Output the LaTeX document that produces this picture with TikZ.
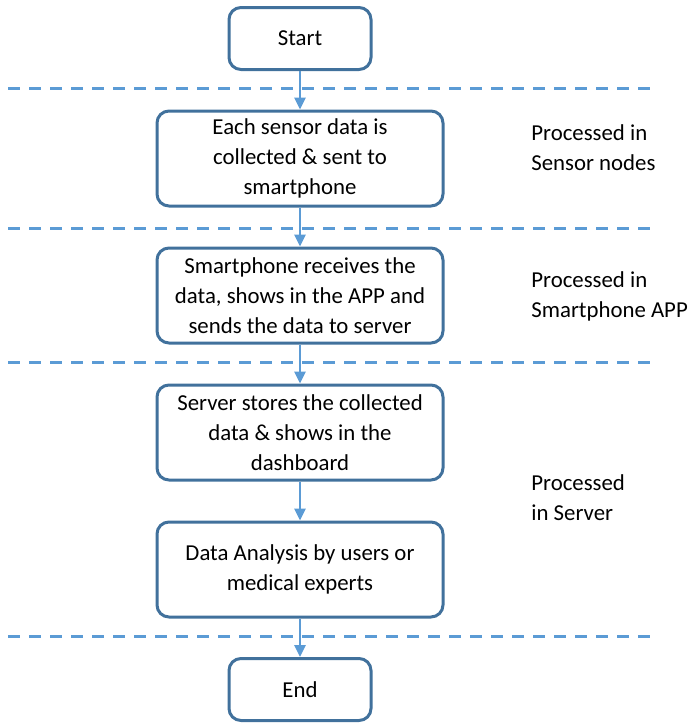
\documentclass[tikz,border=0pt]{standalone}
\usepackage{fontspec}
\setmainfont{Carlito}
\usetikzlibrary{calc,arrows.meta}
\definecolor{boxblue}{HTML}{41719C}
\definecolor{lineblue}{HTML}{5B9BD5}
\tikzset{
  flowbox/.style={draw=boxblue,line width=1.5pt,rounded corners=6pt,fill=white,
    align=center,minimum width=143pt,minimum height=47.5pt,inner sep=2pt,
    font=\fontsize{11.4}{15}\selectfont},
  termbox/.style={flowbox,minimum width=71pt,minimum height=31pt},
  flowarrow/.style={draw=lineblue,line width=1.4pt,-{Triangle[length=6pt,width=5.5pt]}},
  sepline/.style={draw=lineblue,line width=1.5pt,dash pattern=on 6pt off 4.5pt},
  where/.style={anchor=west,align=left,inner sep=0pt,font=\fontsize{11.4}{15}\selectfont}
}
\def\drawsep{\draw[sepline]}
\def\flownode{\node[flowbox]}

\begin{document}
\begin{tikzpicture}[x=0.5pt,y=-0.5pt]
\useasboundingbox (0,0) rectangle (691,724);
\coordinate (mid) at (300,0); % the column of boxes hangs from here

% -------- dashed separators ---------
\foreach \y/\nm in {88/one,228/two,362/three,636/four}{
  \coordinate (sepL\nm) at (8,\y);
  \coordinate (sepR\nm) at (654,\y);
  \drawsep (sepL\nm) -- (sepR\nm);
}

% -------- the flow ---------
\node[termbox] (start) at ($ (mid) + (0,38.5) $) {Start};
\flownode (sense) at ($ (mid) + (0,158.5) $) {Each sensor data is\\collected \& sent to\\smartphone};
\flownode (phone) at ($ (mid) + (0,295.5) $) {Smartphone receives the\\data, shows in the APP and\\sends the data to server};
\flownode (server) at ($ (mid) + (0,432.5) $) {Server stores the collected\\data \& shows in the\\dashboard};
\flownode (analysis) at ($ (mid) + (0,569.5) $) {Data Analysis by users or\\medical experts};
\node[termbox] (finish) at ($ (mid) + (0,689.5) $) {End};

\draw[flowarrow] (start) -- (sense);
\draw[flowarrow] (sense) -- (phone);
\draw[flowarrow] (phone) -- (server);
\draw[flowarrow] (server) -- (analysis);
\draw[flowarrow] (analysis) -- (finish);

% -------- where each step runs ---------
\node[where] (atsensor) at (531,148) {Processed in\\Sensor nodes};
\node[where] (atphone) at (531,296) {Processed in\\Smartphone APP};
\node[where] (atserver) at (531,498) {Processed\\in Server};
\end{tikzpicture}
\end{document}
